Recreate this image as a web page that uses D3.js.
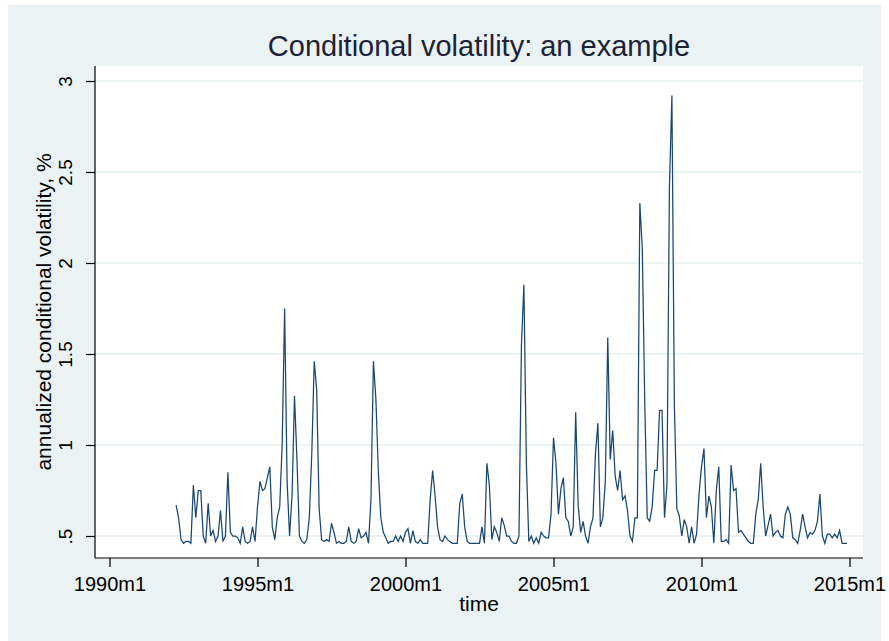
<!DOCTYPE html>
<html>
<head>
<meta charset="utf-8">
<script src="https://cdn.jsdelivr.net/npm/d3@7"></script>
<style>
body { margin: 0; background: #ffffff; }
text { font-family: "Liberation Sans", Arial, sans-serif; }
</style>
</head>
<body>
<svg width="889" height="641"></svg>
<script>
// monthly series, first observation 1992m4
var startYear = 1992;
var startMonth = 4;

var vol = [
	0.67,0.6,0.48,0.46,0.47,0.47,0.46,0.78,0.6,                   // 1992 apr-dec
	0.75,0.75,0.5,0.46,0.68,0.5,0.53,0.47,0.5,0.64,0.47,0.5,      // 1993
	0.85,0.52,0.5,0.5,0.49,0.46,0.55,0.47,0.46,0.47,0.55,0.47,    // 1994
	0.66,0.8,0.75,0.76,0.82,0.88,0.55,0.48,0.6,0.66,1.0,1.75,     // 1995
	0.8,0.5,0.72,1.27,0.92,0.5,0.47,0.46,0.48,0.6,0.95,1.46,      // 1996
	1.3,0.65,0.48,0.47,0.48,0.47,0.57,0.52,0.46,0.47,0.46,0.46,   // 1997
	0.47,0.55,0.47,0.46,0.47,0.54,0.49,0.5,0.52,0.46,0.7,1.46,    // 1998
	1.25,0.85,0.6,0.52,0.49,0.46,0.47,0.47,0.5,0.47,0.5,0.47,     // 1999
	0.52,0.54,0.46,0.53,0.47,0.46,0.48,0.46,0.46,0.46,0.7,0.86,   // 2000
	0.72,0.55,0.48,0.47,0.5,0.48,0.47,0.46,0.46,0.46,0.68,0.73,   // 2001
	0.55,0.47,0.46,0.46,0.46,0.46,0.46,0.55,0.46,0.9,0.78,0.48,   // 2002
	0.55,0.52,0.47,0.6,0.56,0.5,0.5,0.47,0.46,0.46,0.5,1.55,      // 2003
	1.88,0.9,0.47,0.5,0.46,0.49,0.46,0.52,0.5,0.49,0.49,0.62,     // 2004
	1.04,0.9,0.62,0.76,0.82,0.6,0.58,0.5,0.55,1.18,0.67,0.52,     // 2005
	0.58,0.5,0.46,0.55,0.6,0.95,1.12,0.55,0.6,0.8,1.59,0.92,      // 2006
	1.08,0.83,0.75,0.86,0.7,0.72,0.64,0.5,0.47,0.6,0.6,2.33,      // 2007
	2.08,1.23,0.6,0.58,0.66,0.86,0.86,1.19,1.19,0.6,0.78,2.42,    // 2008
	2.92,1.22,0.65,0.61,0.5,0.59,0.55,0.46,0.55,0.46,0.51,0.73,   // 2009
	0.88,0.98,0.6,0.72,0.66,0.46,0.75,0.88,0.47,0.47,0.48,0.46,   // 2010
	0.89,0.75,0.76,0.52,0.53,0.51,0.49,0.47,0.46,0.46,0.62,0.7,   // 2011
	0.9,0.66,0.5,0.56,0.62,0.5,0.52,0.53,0.5,0.49,0.62,0.66,      // 2012
	0.62,0.49,0.48,0.46,0.53,0.62,0.55,0.49,0.52,0.51,0.53,0.58,  // 2013
	0.73,0.5,0.46,0.51,0.51,0.49,0.51,0.49,0.53,0.46,0.46,0.46    // 2014
];

var xTickYears = [1990, 1995, 2000, 2005, 2010, 2015];
var yTicks = [0.5, 1, 1.5, 2, 2.5, 3];

var titleText = "Conditional volatility: an example";
var xTitle = "time";
var yTitle = "annualized conditional volatility, %";

// months since 1990m1
var monthIndex = function(i) {
	return (startYear - 1990) * 12 + (startMonth - 1) + i;
}

var data = vol.map(function(v, i) { return {m: monthIndex(i), v: v}; });

var svg = d3.select("svg");

var plotL = 95, plotR = 863, plotT = 66, plotB = 558;

var x = d3.scaleLinear().domain([0, 300]).range([109.5, 849.5]);
var y = d3.scaleLinear().domain([0.5, 3]).range([536, 81]);

// graph region
svg.append("rect")
	.attr("x", 8).attr("y", 5)
	.attr("width", 873).attr("height", 640)
	.attr("fill", "#eaf2f3");

// plot region
svg.append("rect")
	.attr("x", plotL).attr("y", plotT)
	.attr("width", plotR - plotL).attr("height", plotB - plotT)
	.attr("fill", "#ffffff");

// grid
svg.append("g").selectAll("line")
	.data(yTicks)
	.enter()
	.append("line")
	.attr("x1", plotL).attr("x2", plotR)
	.attr("y1", function(d) { return y(d); })
	.attr("y2", function(d) { return y(d); })
	.attr("stroke", "#e6eff1")
	.attr("stroke-width", 1.5);

// series
var line = d3.line()
	.x(function(d) { return x(d.m); })
	.y(function(d) { return y(d.v); });

svg.append("path")
	.datum(data)
	.attr("d", line)
	.attr("fill", "none")
	.attr("stroke", "#1a476f")
	.attr("stroke-width", 1.25)
	.attr("stroke-linejoin", "miter");

// x axis
var xAxis = d3.axisBottom(x)
	.tickValues(xTickYears.map(function(yr) { return (yr - 1990) * 12; }))
	.tickSize(9)
	.tickSizeOuter(0)
	.tickFormat(function(m) { return (1990 + m / 12) + "m1"; });

var gx = svg.append("g")
	.attr("transform", "translate(0," + plotB + ")")
	.call(xAxis);
gx.select(".domain").remove();
gx.selectAll(".tick line").attr("stroke", "#000").attr("stroke-width", 1.2);
gx.selectAll(".tick text")
	.attr("y", 33).attr("dy", 0)
	.attr("fill", "#000")
	.style("font-size", "20px")
	.style("font-family", "'Liberation Sans', Arial, sans-serif");

// y axis
var yAxis = d3.axisLeft(y)
	.tickValues(yTicks)
	.tickSize(9)
	.tickSizeOuter(0)
	.tickFormat(function(d) { return String(d).replace(/^0/, ""); });

var gy = svg.append("g")
	.attr("transform", "translate(" + plotL + ",0)")
	.call(yAxis);
gy.select(".domain").remove();
gy.selectAll(".tick line").attr("stroke", "#000").attr("stroke-width", 1.2);
gy.selectAll(".tick text")
	.attr("x", 0).attr("dy", 0)
	.attr("transform", "translate(-23,0) rotate(-90)")
	.attr("text-anchor", "middle")
	.attr("fill", "#000")
	.style("font-size", "19px")
	.style("font-family", "'Liberation Sans', Arial, sans-serif");

// axis lines
svg.append("line")
	.attr("x1", plotL).attr("x2", plotL)
	.attr("y1", plotT).attr("y2", plotB)
	.attr("stroke", "#000").attr("stroke-width", 1.2);
svg.append("line")
	.attr("x1", plotL).attr("x2", plotR)
	.attr("y1", plotB).attr("y2", plotB)
	.attr("stroke", "#000").attr("stroke-width", 1.2);

// titles
svg.append("text")
	.attr("x", (plotL + plotR) / 2).attr("y", 56)
	.attr("text-anchor", "middle")
	.attr("fill", "#1c2238")
	.style("font-size", "29px")
	.text(titleText);

svg.append("text")
	.attr("x", (plotL + plotR) / 2).attr("y", 611)
	.attr("text-anchor", "middle")
	.attr("fill", "#000")
	.style("font-size", "21px")
	.text(xTitle);

svg.append("text")
	.attr("transform", "translate(51," + ((plotT + plotB) / 2) + ") rotate(-90)")
	.attr("text-anchor", "middle")
	.attr("fill", "#000")
	.style("font-size", "21px")
	.text(yTitle);
</script>
</body>
</html>
